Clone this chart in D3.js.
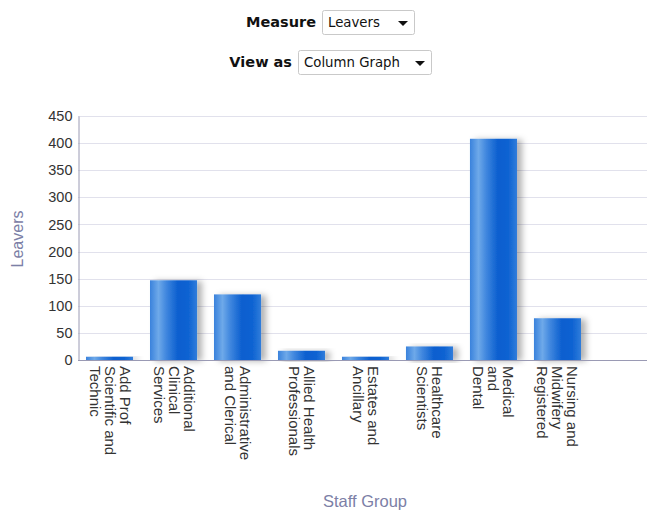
<!DOCTYPE html>
<html>
<head>
<meta charset="utf-8">
<script src="https://cdn.jsdelivr.net/npm/d3@7"></script>
<style>
  body { margin: 0; background: #fff; }
  svg { display: block; font-family: "Liberation Sans", Arial, sans-serif; }
</style>
</head>
<body>
<svg id="chart" width="647" height="512"></svg>
<script>
var categories = ["Add Prof Scientific and Technic", "Additional Clinical Services",
                  "Administrative and Clerical", "Allied Health Professionals",
                  "Estates and Ancillary", "Healthcare Scientists",
                  "Medical and Dental", "Nursing and Midwifery Registered"];
var labelLines = [["Add Prof", "Scientific and", "Technic"],
                  ["Additional", "Clinical", "Services"],
                  ["Administrative", "and Clerical"],
                  ["Allied Health", "Professionals"],
                  ["Estates and", "Ancillary"],
                  ["Healthcare", "Scientists"],
                  ["Medical", "and", "Dental"],
                  ["Nursing and", "Midwifery", "Registered"]];
var leavers = [6, 147, 121, 17, 6, 25, 408, 77];
var yTicks = [0, 50, 100, 150, 200, 250, 300, 350, 400, 450];

var svg = d3.select("#chart");

// ---- controls at the top
function dropdown(label, value, lx, by, bx, bw) {
    svg.append("text")
        .attr("x", lx).attr("y", by + 17)
        .attr("text-anchor", "end")
        .attr("font-family", "DejaVu Sans, sans-serif")
        .attr("font-weight", "bold")
        .attr("font-size", 14.5)
        .attr("fill", "#111")
        .text(label);
    svg.append("rect")
        .attr("x", bx + 0.5).attr("y", by + 0.5)
        .attr("width", bw).attr("height", 24)
        .attr("rx", 2)
        .attr("fill", "#fff")
        .attr("stroke", "#c9c9c9");
    svg.append("text")
        .attr("x", bx + 6).attr("y", by + 17)
        .attr("font-family", "DejaVu Sans, sans-serif")
        .attr("font-size", 13.3)
        .attr("fill", "#111")
        .text(value);
    var ax = bx + bw - 16, ay = by + 11;
    svg.append("path")
        .attr("d", "M" + ax + "," + ay + "h10l-5,5z")
        .attr("fill", "#111");
}
dropdown("Measure", "Leavers", 316, 10, 322, 92);
dropdown("View as", "Column Graph", 292, 50, 298, 133);

// ---- chart
var x0 = 78, yTop = 116, yBot = 360, xEnd = 647;

var xScale = d3.scaleBand()
    .domain(categories)
    .range([x0, 589])
    .paddingInner(0.265)
    .paddingOuter(0.125);
var yScale = d3.scaleLinear().domain([0, 450]).range([yBot, yTop]);

var defs = svg.append("defs");
var grad = defs.append("linearGradient").attr("id", "barGrad")
    .attr("x1", "0%").attr("x2", "100%").attr("y1", "0%").attr("y2", "0%");
[["0%", "#3a82dc"], ["18%", "#6ea9e9"], ["35%", "#3f86de"], ["60%", "#0a5ecf"],
 ["82%", "#0e63d2"], ["100%", "#2f7ddb"]].forEach(function(s) {
    grad.append("stop").attr("offset", s[0]).attr("stop-color", s[1]);
});
var filt = defs.append("filter").attr("id", "shadow")
    .attr("x", "-20%").attr("y", "-20%").attr("width", "160%").attr("height", "140%");
filt.append("feDropShadow")
    .attr("dx", 5).attr("dy", 1).attr("stdDeviation", 3)
    .attr("flood-color", "#000").attr("flood-opacity", 0.3);

// gridlines
svg.append("g")
    .selectAll("line")
    .data(yTicks.slice(1))
    .enter().append("line")
    .attr("x1", x0).attr("x2", xEnd)
    .attr("y1", function(d) { return Math.round(yScale(d)) + 0.5; })
    .attr("y2", function(d) { return Math.round(yScale(d)) + 0.5; })
    .attr("stroke", "#e1e1ec");

// y axis
var yAxis = svg.append("g")
    .attr("transform", "translate(" + (x0 + 0.5) + ",0)")
    .call(d3.axisLeft(yScale).tickValues(yTicks).tickSize(0).tickPadding(6));
yAxis.select(".domain").attr("stroke", "#9a9ab4");
yAxis.selectAll("text")
    .attr("font-family", "Liberation Sans, Arial, sans-serif")
    .attr("font-size", 14.5)
    .attr("fill", "#333");

// bars
svg.append("g")
    .selectAll("rect")
    .data(leavers)
    .enter().append("rect")
    .attr("x", function(d, i) { return xScale(categories[i]); })
    .attr("y", function(d) { return yScale(d); })
    .attr("width", xScale.bandwidth())
    .attr("height", function(d) { return yBot - yScale(d); })
    .attr("fill", "url(#barGrad)")
    .attr("filter", "url(#shadow)");

// x axis line
svg.append("line")
    .attr("x1", x0).attr("x2", xEnd)
    .attr("y1", yBot + 0.5).attr("y2", yBot + 0.5)
    .attr("stroke", "#9a9ab4");

// x labels, rotated, reading top to bottom
var lineH = 15;
var lab = svg.append("g")
    .selectAll("text")
    .data(categories)
    .enter().append("text")
    .attr("transform", function(d, i) {
        var cx = xScale(d) + xScale.bandwidth() / 2;
        var n = labelLines[i].length;
        var first = cx + (n - 1) * lineH / 2 - 5;
        return "translate(" + first + "," + (yBot + 6) + ") rotate(90)";
    })
    .attr("font-size", 15)
    .attr("fill", "#333");
lab.each(function(d, i) {
    var t = d3.select(this);
    labelLines[i].forEach(function(s, j) {
        t.append("tspan").attr("x", 0).attr("y", j * lineH).text(s);
    });
});

// axis titles
svg.append("text")
    .attr("transform", "translate(23,239) rotate(-90)")
    .attr("text-anchor", "middle")
    .attr("font-size", 16)
    .attr("fill", "#7c80a6")
    .text("Leavers");
svg.append("text")
    .attr("x", 365).attr("y", 507)
    .attr("text-anchor", "middle")
    .attr("font-size", 16.5)
    .attr("fill", "#7c80a6")
    .text("Staff Group");
</script>
</body>
</html>
